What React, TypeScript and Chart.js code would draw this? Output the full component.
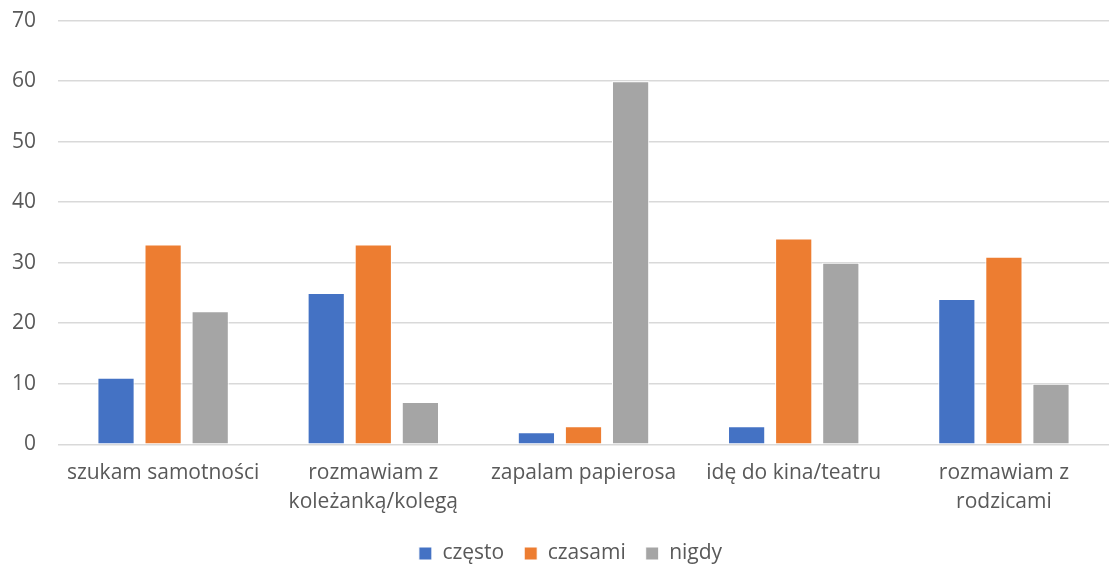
import React, { useEffect, useRef } from "react";
import { Chart, registerables } from "chart.js";

Chart.register(...registerables);

const categories: (string | string[])[] = [
  "szukam samotności",
  ["rozmawiam z", "koleżanką/kolegą"],
  "zapalam papierosa",
  "idę do kina/teatru",
  ["rozmawiam z", "rodzicami"],
];
const czesto = [11, 25, 2, 3, 24];
const czasami = [33, 33, 3, 34, 31];
const nigdy = [22, 7, 60, 30, 10];
const seriesNames = ["często", "czasami", "nigdy"];
const colors = ["#4472C4", "#ED7D31", "#A5A5A5"];

const FONT = "'Open Sans', 'DejaVu Sans', sans-serif";

const centerLegend = {
  id: "centerLegend",
  afterLayout(chart: any) {
    const lg = chart.legend;
    const ca = chart.chartArea;
    if (!lg || !ca) return;
    const target = (ca.left + ca.right) / 2 - 13;
    const d = target - (lg.left + lg.right) / 2;
    lg.left += d;
    lg.right += d;
    if (lg.legendHitBoxes) lg.legendHitBoxes.forEach((h: any) => (h.left += d));
  },
};

export default function App() {
  const ref = useRef<HTMLCanvasElement | null>(null);
  useEffect(() => {
    if (!ref.current) return;
    const values = [czesto, czasami, nigdy];
    const chart = new Chart(ref.current, {
      type: "bar",
      data: {
        labels: categories,
        datasets: values.map((v, i) => ({
          label: seriesNames[i],
          data: v,
          backgroundColor: colors[i],
          borderColor: "#ffffff",
          borderWidth: 1,
          categoryPercentage: 0.672,
          barPercentage: 0.79,
        })),
      },
      plugins: [centerLegend],
      options: {
        responsive: false,
        animation: false,
        maintainAspectRatio: false,
        layout: { padding: { left: 4, right: -7, top: 5, bottom: -2 } },
        scales: {
          x: {
            grid: { display: false },
            border: { display: false },
            ticks: {
              color: "#595959",
              font: { family: FONT, size: 21, lineHeight: 1.35 },
              padding: 7,
              maxRotation: 0,
            },
          },
          y: {
            min: 0,
            max: 70,
            ticks: {
              stepSize: 10,
              color: "#595959",
              font: { family: FONT, size: 21 },
              padding: 8,
            },
            grid: {
              color: "#D9D9D9",
              lineWidth: 1.5,
              drawTicks: true,
              tickLength: 14,
              tickColor: "rgba(0,0,0,0)",
            },
            border: { display: false },
          },
        },
        plugins: {
          legend: {
            position: "bottom",
            labels: {
              color: "#595959",
              font: { family: FONT, size: 21 },
              boxWidth: 13,
              boxHeight: 13,
              padding: 20,
            },
          },
          tooltip: { enabled: false },
        },
      },
    });
    return () => chart.destroy();
  }, []);
  return (
    <div style={{ position: "absolute", left: 0, top: 0, width: 1109, height: 572, background: "#fff", overflow: "hidden" }}>
      <canvas ref={ref} width={1109} height={572} />
    </div>
  );
}
